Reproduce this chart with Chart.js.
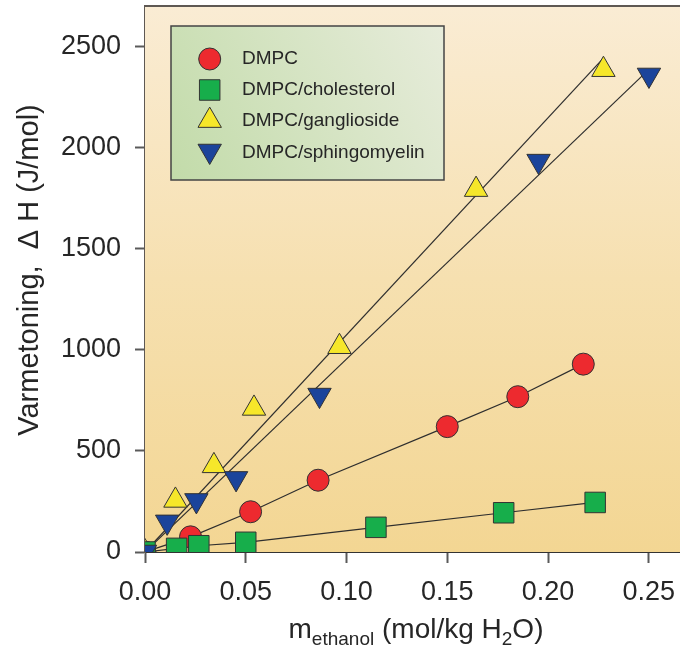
<!DOCTYPE html>
<html>
<head>
<meta charset="utf-8">
<script src="https://cdn.jsdelivr.net/npm/chart.js"></script>
<style>
  html, body { margin: 0; padding: 0; background: #ffffff; overflow: hidden; }
  #wrap { position: relative; width: 680px; height: 668px; }
</style>
</head>
<body>
<div id="wrap"><canvas id="c"></canvas></div>
<script>
// ---- Data ----
const seriesNames = ["DMPC", "DMPC/cholesterol", "DMPC/ganglioside", "DMPC/sphingomyelin"];
const xDMPC = [0, 0.0226, 0.0524, 0.0859, 0.150, 0.185, 0.2175];
const yDMPC = [0, 75, 199, 355, 620, 768, 929];
const xChol = [0, 0.0157, 0.0267, 0.050, 0.1146, 0.178, 0.2234];
const yChol = [0, 18, 31, 48, 122, 194, 245];
const xGang = [0, 0.0151, 0.0342, 0.0541, 0.0965, 0.1643, 0.2275];
const yGang = [0, 255, 426, 710, 1015, 1792, 2385];
const xSph  = [0, 0.011, 0.0255, 0.0452, 0.0866, 0.1953, 0.2501];
const ySph  = [0, 149, 255, 364, 776, 1933, 2359];
const xTicks = [0, 0.05, 0.10, 0.15, 0.20, 0.25];
const yTicks = [0, 500, 1000, 1500, 2000, 2500];

const FONT = '"Liberation Sans", Arial, Helvetica, sans-serif';
const pts = (xs, ys) => xs.map((x, i) => ({x: x, y: ys[i]}));
// least-squares line through the origin, from 0 to the last x
function fitLine(xs, ys) {
  let sxy = 0, sxx = 0;
  xs.forEach((x, i) => { sxy += x * ys[i]; sxx += x * x; });
  const k = sxy / sxx, xm = Math.max(...xs);
  return [{x: 0, y: 0}, {x: xm, y: k * xm}];
}

const styles = [
  {color: '#ed2a2f', style: 'circle',   r: 11,   rot: 0},
  {color: '#17ae4b', style: 'rect',     r: 14.5, rot: 0},
  {color: '#f6e72a', style: 'triangle', r: 13.5, rot: 0},
  {color: '#1b449b', style: 'triangle', r: 13.5, rot: 180}
];

const lineDs = (data) => ({
  type: 'scatter', data: data, showLine: true, borderColor: '#2e2e2e', borderWidth: 1.2,
  pointRadius: 0, pointHoverRadius: 0, order: 10, fill: false
});
const markDs = (label, data, s, order) => ({
  type: 'scatter', label: label, data: data, showLine: false,
  pointStyle: s.style, pointRadius: s.r, pointHoverRadius: s.r, pointRotation: s.rot,
  backgroundColor: s.color, borderColor: '#333333', borderWidth: 1, order: order
});

const bgPlugin = {
  id: 'bgPlugin',
  beforeDatasetsDraw(chart) {
    const {ctx, chartArea: a} = chart;
    ctx.save();
    const g = ctx.createLinearGradient(0, a.top, 0, a.bottom);
    g.addColorStop(0, '#faecd4');
    g.addColorStop(0.5, '#f6e0b0');
    g.addColorStop(1, '#f3d693');
    ctx.fillStyle = g;
    ctx.fillRect(a.left, a.top, a.right - a.left, a.bottom - a.top);
    ctx.restore();
  },
  afterDraw(chart) {
    const {ctx, chartArea: a} = chart;
    ctx.save();
    // top frame
    ctx.strokeStyle = '#5e5853';
    ctx.lineWidth = 2;
    ctx.beginPath();
    ctx.moveTo(a.left - 1, a.top);
    ctx.lineTo(a.right, a.top);
    ctx.stroke();

    // legend box
    const bx = 171, by = 26, bw = 273, bh = 154;
    const lg = ctx.createLinearGradient(bx, by + bh, bx + bw, by);
    lg.addColorStop(0, '#c2dba9');
    lg.addColorStop(1, '#e7ecdb');
    ctx.fillStyle = lg;
    ctx.fillRect(bx, by, bw, bh);
    ctx.strokeStyle = '#444444';
    ctx.lineWidth = 1.5;
    ctx.strokeRect(bx, by, bw, bh);

    const rows = [59, 90, 120.6, 151];
    const mx = 209.7;
    rows.forEach((yy, i) => {
      const s = styles[i];
      ctx.fillStyle = s.color;
      ctx.strokeStyle = '#333333';
      ctx.lineWidth = 1;
      ctx.beginPath();
      if (s.style === 'circle') {
        ctx.arc(mx, yy, s.r, 0, Math.PI * 2);
      } else if (s.style === 'rect') {
        const h = Math.SQRT1_2 * s.r;
        ctx.rect(mx - h, yy - h, 2 * h, 2 * h);
      } else {
        const sgn = s.rot ? -1 : 1;
        ctx.moveTo(mx, yy - sgn * s.r);
        ctx.lineTo(mx + s.r * Math.sqrt(3) / 2, yy + sgn * s.r / 2);
        ctx.lineTo(mx - s.r * Math.sqrt(3) / 2, yy + sgn * s.r / 2);
        ctx.closePath();
      }
      ctx.fill();
      ctx.stroke();
      ctx.fillStyle = '#262626';
      ctx.font = '19px ' + FONT;
      ctx.textAlign = 'left';
      ctx.textBaseline = 'middle';
      const ty = [59, 90, 121, 153][i];
      ctx.fillText(seriesNames[i], 242, ty);
    });

    // y title
    ctx.fillStyle = '#262626';
    ctx.save();
    ctx.translate(30, 270);
    ctx.rotate(-Math.PI / 2);
    ctx.font = '29px ' + FONT;
    ctx.textAlign = 'center';
    ctx.textBaseline = 'middle';
    ctx.fillText('Varmetoning,  \u0394 H (J/mol)', 0, 0);
    ctx.restore();

    // x title with subscripts
    const parts = [
      {t: 'm', f: 28, dy: 0},
      {t: 'ethanol', f: 19, dy: 7},
      {t: ' (mol/kg H', f: 28, dy: 0},
      {t: '2', f: 19, dy: 7},
      {t: 'O)', f: 28, dy: 0}
    ];
    let total = 0;
    parts.forEach(p => { ctx.font = p.f + 'px ' + FONT; p.w = ctx.measureText(p.t).width; total += p.w; });
    let x0 = 416 - total / 2;
    const base = 638;
    ctx.textAlign = 'left';
    ctx.textBaseline = 'alphabetic';
    parts.forEach(p => {
      ctx.font = p.f + 'px ' + FONT;
      ctx.fillText(p.t, x0, base + p.dy);
      x0 += p.w;
    });
    ctx.restore();
  }
};

const onlyTicks = (list) => (scale) => {
  scale.ticks = list.map(v => ({value: v}));
};
const noPad = (s) => { s.paddingTop = 0; s.paddingBottom = 0; s.paddingLeft = 0; s.paddingRight = 0; };

new Chart(document.getElementById('c'), {
  type: 'scatter',
  data: {
    datasets: [
      markDs(seriesNames[3], pts(xSph, ySph), styles[3], 0),
      markDs(seriesNames[1], pts(xChol, yChol), styles[1], 1),
      markDs(seriesNames[2], pts(xGang, yGang), styles[2], 2),
      markDs(seriesNames[0], pts(xDMPC, yDMPC), styles[0], 3),
      lineDs(pts(xDMPC, yDMPC)),
      lineDs(pts(xChol, yChol)),
      lineDs(fitLine(xGang, yGang)),
      lineDs(fitLine(xSph, ySph))
    ]
  },
  options: {
    responsive: true,
    maintainAspectRatio: false,
    animation: false,
    events: [],
    layout: {autoPadding: false, padding: {top: 6, right: 0, left: 0, bottom: 0}},
    plugins: {legend: {display: false}, tooltip: {enabled: false}, title: {display: false}},
    scales: {
      x: {
        type: 'linear', min: 0, max: 0.2655,
        afterBuildTicks: onlyTicks(xTicks),
        afterFit(s) { s.height = 116; noPad(s); },
        grid: {drawOnChartArea: false, drawTicks: true, tickLength: 11, tickWidth: 2, tickColor: '#5a5a5a'},
        border: {display: true, color: '#333333', width: 2},
        ticks: {color: '#262626', font: {family: FONT, size: 27}, padding: 13,
                maxRotation: 0, autoSkip: false, callback: v => Number(v).toFixed(2)}
      },
      y: {
        type: 'linear', min: 0, max: 2700,
        afterBuildTicks: onlyTicks(yTicks),
        afterFit(s) { s.width = 145; noPad(s); },
        grid: {drawOnChartArea: false, drawTicks: true, tickLength: 10, tickWidth: 2, tickColor: '#5a5a5a'},
        border: {display: true, color: '#5e5853', width: 2},
        ticks: {color: '#262626', font: {family: FONT, size: 27}, padding: 14, autoSkip: false,
                callback: v => String(v)}
      }
    }
  },
  plugins: [bgPlugin]
});
</script>
</body>
</html>
